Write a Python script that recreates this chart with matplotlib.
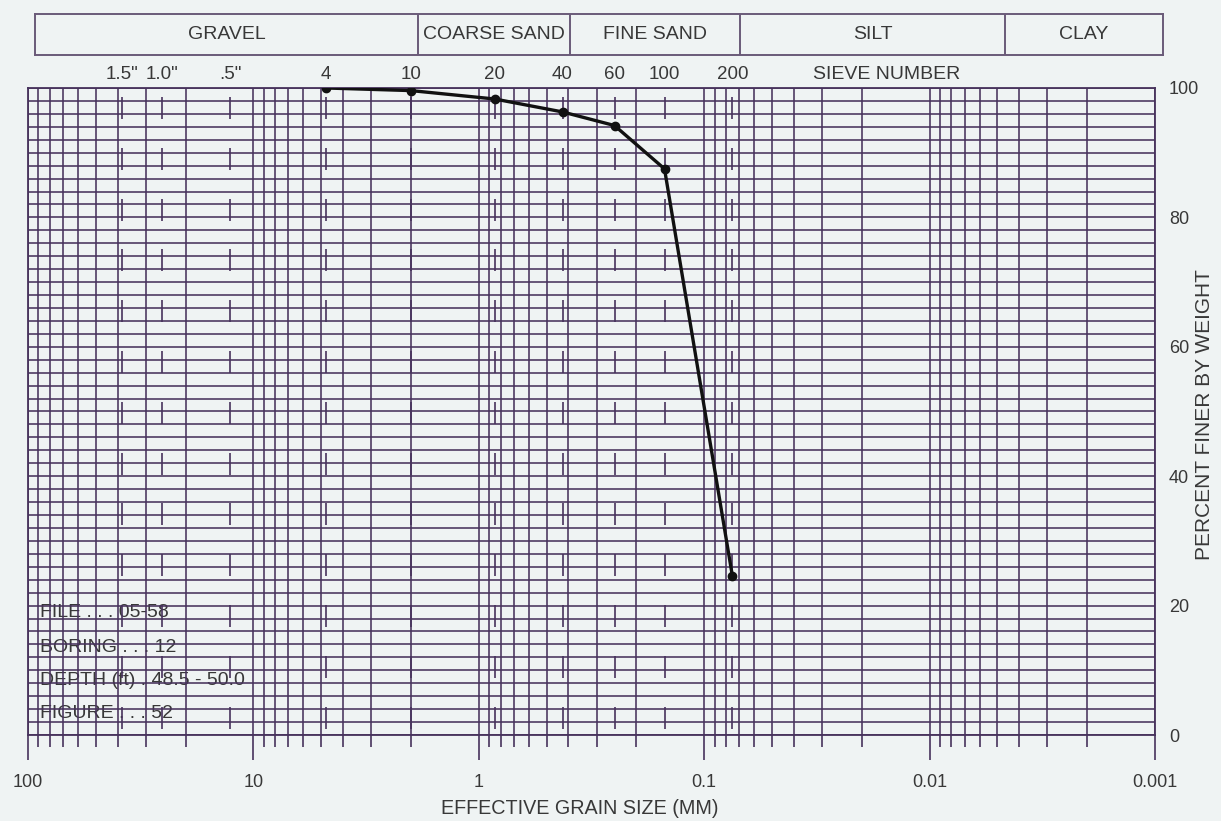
import matplotlib.pyplot as plt
import matplotlib.ticker as mticker
import numpy as np

plt.rcParams['font.family'] = ['Liberation Sans', 'DejaVu Sans']

# Dados
sieve_labels = ['4', '10', '20', '40', '60', '100', '200']
sieve_mm = [4.75, 2.0, 0.85, 0.425, 0.25, 0.15, 0.075]
percent_finer = [100.0, 99.6, 98.3, 96.3, 94.2, 87.5, 24.6]

inch_labels = ['1.5"', '1.0"', '.5"']
inch_mm = [38.1, 25.4, 12.7]

zone_names = ['GRAVEL', 'COARSE SAND', 'FINE SAND', 'SILT', 'CLAY']
zone_edges = [100, 2.0, 0.425, 0.075, 0.005, 0.001]

info_lines = ['FILE . . . 05-58', 'BORING . . . 12', 'DEPTH (ft) . 48.5 - 50.0', 'FIGURE . . . 52']

bg = '#eff3f3'
grid_col = '#47325c'
text_col = '#383838'

W, H = 1221, 821
fig = plt.figure(figsize=(W / 100, H / 100), dpi=100, facecolor=bg)

# eixo principal (pixels: x 28..1155, y 88..735)
ax = fig.add_axes([28 / W, (H - 735) / H, (1155 - 28) / W, (735 - 88) / H])
ax.set_facecolor(bg)
ax.set_xscale('log')
ax.set_xlim(100, 0.001)
ax.set_ylim(0, 100)

ax.xaxis.set_major_locator(mticker.LogLocator(base=10, numticks=10))
ax.xaxis.set_minor_locator(mticker.LogLocator(base=10, subs=np.arange(2, 10), numticks=20))
ax.xaxis.set_minor_formatter(mticker.NullFormatter())
ax.xaxis.set_major_formatter(mticker.FuncFormatter(lambda v, p: f'{v:g}'))
ax.tick_params(axis='x', which='major', direction='out', length=18, width=1.2, color=grid_col,
               labelsize=13, labelcolor=text_col, pad=10)
ax.tick_params(axis='x', which='minor', direction='out', length=8.5, width=1.2, color=grid_col)

ax.yaxis.tick_right()
ax.yaxis.set_major_locator(mticker.MultipleLocator(20))
ax.yaxis.set_minor_locator(mticker.MultipleLocator(2))
ax.tick_params(axis='y', which='both', length=0, labelsize=13, labelcolor=text_col, pad=10)

ax.grid(True, which='both', axis='both', color=grid_col, lw=1.15)
ax.set_axisbelow(False)
for s in ax.spines.values():
    s.set_color(grid_col)
    s.set_linewidth(1.3)

# marcas das peneiras (segmentos interrompidos)
seg_tops = np.arange(98.6, 0, -7.85)
for d in inch_mm + sieve_mm:
    ax.vlines(np.full(len(seg_tops), d), np.maximum(seg_tops - 3.4, 0), seg_tops,
              color=grid_col, lw=1.2, zorder=2.5)

# rotulos de peneira acima do grafico
for lab, d in zip(inch_labels + sieve_labels, inch_mm + sieve_mm):
    ax.text(d, 102.1, lab, ha='center', va='center', fontsize=13.5, color=text_col, clip_on=False)
ax.text(10 ** (2 - 0.762 * 5), 102.1, 'SIEVE NUMBER', ha='center', va='center',
        fontsize=14, color=text_col, clip_on=False)

# curva granulometrica
ax.plot(sieve_mm, percent_finer, color='#111111', lw=2.4, marker='o', markersize=6, zorder=5)

# caixa de informacoes
info_y = [19.0, 13.6, 8.5, 3.4]
for t, y in zip(info_lines, info_y):
    ax.text(0.0105, y, t, transform=ax.get_yaxis_transform(), ha='left', va='center',
            fontsize=14, color=text_col, zorder=1)

# faixa de classificacao no topo
zx = fig.add_axes([35 / W, (H - 55) / H, (1163 - 35) / W, (55 - 14) / H])
zx.set_facecolor(bg)
zx.set_xscale('log')
zx.set_xlim(100, 0.001)
zx.set_ylim(0, 1)
zx.set_xticks([])
zx.set_yticks([])
zx.xaxis.set_minor_locator(mticker.NullLocator())
for s in zx.spines.values():
    s.set_color('#6a5a78')
    s.set_linewidth(1.4)
for e in zone_edges[1:-1]:
    zx.axvline(e, color='#6a5a78', lw=1.4)
for name, a, b in zip(zone_names, zone_edges[:-1], zone_edges[1:]):
    zx.text(np.sqrt(a * b), 0.5, name, ha='center', va='center', fontsize=14, color=text_col)

fig.text(580 / W, 1 - 808 / H, 'EFFECTIVE GRAIN SIZE (MM)', ha='center', va='center',
         fontsize=14.2, color=text_col)
fig.text(1205 / W, 1 - 415 / H, 'PERCENT FINER BY WEIGHT', ha='center', va='center',
         rotation=90, fontsize=15, color=text_col)

fig.savefig('out.png', dpi=100, facecolor=bg)
